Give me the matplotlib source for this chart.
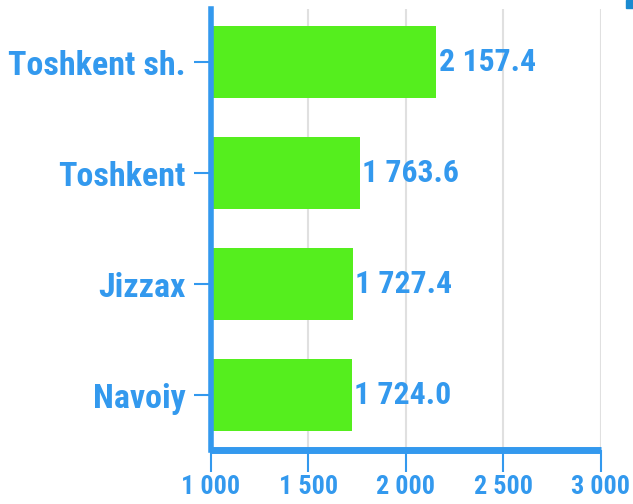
import matplotlib
matplotlib.use("Agg")
import matplotlib.pyplot as plt
from matplotlib import font_manager
from matplotlib.patches import Rectangle

# data
regions = ["Toshkent sh.", "Toshkent", "Jizzax", "Navoiy"]
values = [2157.4, 1763.6, 1727.4, 1724.0]
xticks = [1000, 1500, 2000, 2500, 3000]

blue = "#3399ee"
green = "#55ee1e"

# pick a narrow bold face if one exists
names = {f.name for f in font_manager.fontManager.ttflist}
family = "DejaVu Sans"
for cand in ["Liberation Sans Narrow", "Roboto Condensed", "Open Sans Condensed",
             "Arial Narrow", "Liberation Sans", "Roboto"]:
    if cand in names:
        family = cand
        break
plt.rcParams["font.family"] = [family, "DejaVu Sans"]
plt.rcParams["font.weight"] = "bold"

fig = plt.figure(figsize=(6.33, 5.04), dpi=100)
renderer = fig.canvas.get_renderer()


def size_for(s, px):
    t = fig.text(0, 0, s, fontsize=20, fontweight="bold")
    w = t.get_window_extent(renderer).width
    t.remove()
    return 20 * px / w


ylab_size = size_for("Toshkent sh.", 177)
val_size = size_for("2 157.4", 97)
xlab_size = size_for("1 000", 59)

ax = fig.add_axes([0.333, 0.107, 0.616, 0.875])

ypos = list(range(len(regions)))[::-1]
base = xticks[0]
ax.barh(ypos, [v - base for v in values], left=base, height=0.65, color=green, zorder=2)

for y, v in zip(ypos, values):
    label = f"{v:,.1f}".replace(",", " ")
    ax.text(v + 12, y, label, va="center", ha="left", fontsize=val_size,
            fontweight="bold", color=blue)

ax.set_xlim(1000, 3000)
ax.set_ylim(-0.495, 3.477)
ax.set_xticks(xticks)
ax.set_xticklabels([f"{t:,}".replace(",", " ") for t in xticks])
ax.set_yticks(ypos)
ax.set_yticklabels(regions)

ax.xaxis.grid(True, color="#e0e0e0", linewidth=1.5, zorder=0)
ax.set_axisbelow(True)

for s in ["top", "right"]:
    ax.spines[s].set_visible(False)
ax.spines["left"].set_color(blue)
ax.spines["left"].set_linewidth(4)
ax.spines["bottom"].set_color(blue)
ax.spines["bottom"].set_linewidth(5)
ax.spines["bottom"].set_capstyle("butt")

ax.tick_params(axis="y", colors=blue, length=12, width=1.5, labelsize=ylab_size, pad=6)
ax.tick_params(axis="x", colors=blue, length=16, width=1.5, labelsize=xlab_size, pad=2)
for lbl in ax.get_xticklabels() + ax.get_yticklabels():
    lbl.set_fontweight("bold")

# small corner mark
fig.patches.append(Rectangle((626 / 633, 1 - 8 / 504), 7 / 633, 8 / 504,
                             transform=fig.transFigure, color="#1a8ad0"))

fig.savefig("out.png", dpi=100)
